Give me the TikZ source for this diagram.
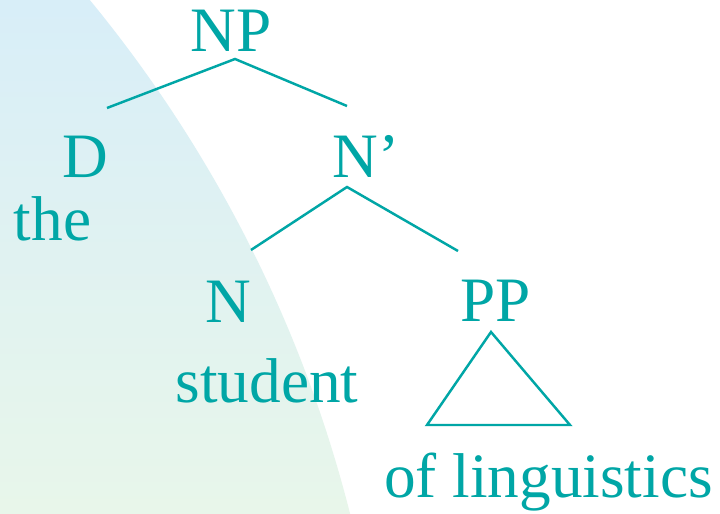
\documentclass[tikz,border=0pt]{standalone}
\usepackage{fontspec}
\setmainfont{Liberation Serif}
\usepackage{tikz}
\usetikzlibrary{positioning,calc}
\usepackage{xcolor}

\definecolor{treeteal}{RGB}{0,166,166}
\definecolor{skytop}{RGB}{216,238,248}
\definecolor{mintbottom}{RGB}{232,246,234}

\begin{document}
\begin{tikzpicture}[
    word/.style={anchor=base, inner sep=0pt, text=treeteal, font=\fontsize{36pt}{43pt}\selectfont},
    branch/.style={draw=treeteal, line width=1.4pt}
]
    \useasboundingbox (0,0) rectangle (14.4,10.28);
    \fill[white] (0,0) rectangle (14.4,10.28);

    % Shaded arc in the background
    \begin{scope}
        \clip (-18.63,-6.51) circle (26.44);
        \shade[top color=skytop, bottom color=mintbottom] (0,0) rectangle (14.4,10.28);
    \end{scope}

    % Category labels
    \node[word] (np) at (4.62,9.24) {NP};
    \node[word] (d) at (1.70,6.72) {D};
    \node[word] (nbar) at (7.32,6.72) {N'};
    \node[word] (n) at (4.57,3.83) {N};
    \node[word] (pp) at (9.92,3.84) {PP};

    % Words
    \node[word] (the) at (1.05,5.46) {the};
    \node[word] (student) at (5.34,2.22) {student};
    \node[word] (ofling) at (10.97,0.32) {of linguistics};

    % Branch points
    \coordinate (np-root) at (4.70,9.10);
    \coordinate (d-top) at (2.14,8.12);
    \coordinate (nbar-top) at (6.94,8.16);
    \coordinate (nbar-root) at (6.94,6.54);
    \coordinate (n-top) at (5.02,5.28);
    \coordinate (pp-top) at (9.16,5.26);

    \draw[branch] (d-top) -- (np-root) -- (nbar-top);
    \draw[branch] (n-top) -- (nbar-root) -- (pp-top);

    % Triangle for the PP
    \coordinate (pp-root) at (9.82,3.64);
    \coordinate (tri-left) at (8.54,1.78);
    \coordinate (tri-right) at (11.40,1.78);
    \draw[branch, line join=miter] (pp-root) -- (tri-left) -- (tri-right) -- cycle;
\end{tikzpicture}
\end{document}
